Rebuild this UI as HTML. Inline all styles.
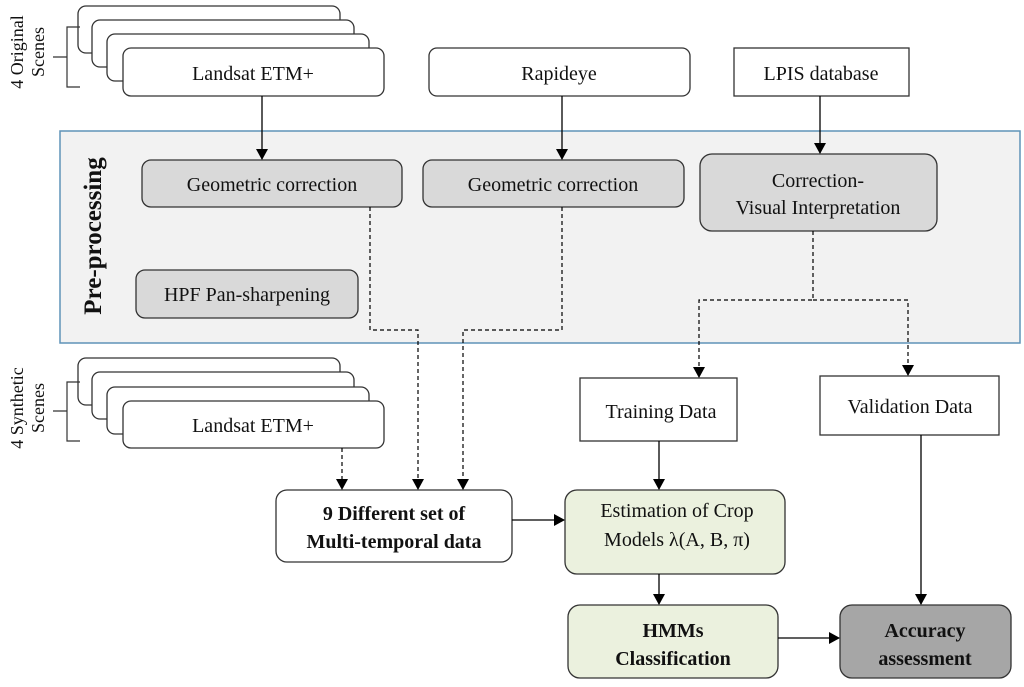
<!DOCTYPE html>
<html><head><meta charset="utf-8"><style>
body{margin:0;background:#fff}
svg text{font-family:"Liberation Serif",serif;fill:#111}
</style></head><body>
<svg width="1024" height="682" viewBox="0 0 1024 682" xmlns="http://www.w3.org/2000/svg">
<defs><marker id="a" markerWidth="12" markerHeight="12" refX="10" refY="6" orient="auto" markerUnits="userSpaceOnUse"><path d="M0,0 L11,6 L0,12 z" fill="#000"/></marker></defs>
<g stroke="#333" stroke-width="1.3" fill="#fff">
<rect x="78" y="6" width="262" height="47" rx="8"/>
<rect x="92" y="20" width="262" height="47" rx="8"/>
<rect x="107" y="34" width="262" height="47" rx="8"/>
<rect x="123" y="48" width="261" height="48" rx="8"/>
<rect x="429" y="48" width="261" height="48" rx="8"/>
<rect x="734" y="48" width="175" height="48" rx="0"/>
<rect x="60" y="131" width="960" height="212" fill="#f2f2f2" stroke="#5f93b8" stroke-width="1.5"/>
<rect x="142" y="160" width="260" height="47" rx="9" fill="#d9d9d9"/>
<rect x="423" y="160" width="261" height="47" rx="9" fill="#d9d9d9"/>
<rect x="700" y="154" width="237" height="77" rx="12" fill="#d9d9d9"/>
<rect x="136" y="270" width="222" height="48" rx="9" fill="#d9d9d9"/>
<rect x="78" y="358" width="262" height="47" rx="8"/>
<rect x="92" y="372" width="262" height="47" rx="8"/>
<rect x="107" y="387" width="262" height="47" rx="8"/>
<rect x="123" y="401" width="261" height="47" rx="8"/>
<rect x="580" y="378" width="157" height="63"/>
<rect x="820" y="376" width="179" height="59"/>
<rect x="276" y="490" width="236" height="72" rx="11"/>
<rect x="565" y="490" width="220" height="84" rx="12" fill="#ebf1de"/>
<rect x="568" y="605" width="210" height="73" rx="12" fill="#ebf1de"/>
<rect x="840" y="605" width="171" height="73" rx="12" fill="#a6a6a6"/>
</g>
<g stroke="#333" stroke-width="1.2" fill="none">
<path d="M53 57H67M80 27H67V87H80"/>
<path d="M53 411H67M80 382H67V441H80"/>
</g>
<g stroke="#000" stroke-width="1.3" fill="none" marker-end="url(#a)">
<line x1="262" y1="96" x2="262" y2="159"/>
<line x1="562" y1="96" x2="562" y2="159"/>
<line x1="820" y1="96" x2="820" y2="153"/>
<line x1="659" y1="441" x2="659" y2="489"/>
<line x1="659" y1="574" x2="659" y2="604"/>
<line x1="512" y1="520" x2="564" y2="520"/>
<line x1="778" y1="638" x2="839" y2="638"/>
<line x1="921" y1="435" x2="921" y2="604"/>
</g>
<g stroke="#000" stroke-width="1.2" fill="none" stroke-dasharray="4,3" marker-end="url(#a)">
<path d="M370 207V330H418V489"/>
<path d="M562 207V330H463V489"/>
<path d="M342 448V489"/>
<path d="M813 231V300H699V377"/>
<path d="M813 300H908V375"/>
</g>
<g font-size="20" text-anchor="middle">
<text x="253" y="80">Landsat ETM+</text>
<text x="559" y="80">Rapideye</text>
<text x="821" y="80">LPIS database</text>
<text x="272" y="191">Geometric correction</text>
<text x="553" y="191">Geometric correction</text>
<text x="818" y="187">Correction-</text>
<text x="818" y="214">Visual Interpretation</text>
<text x="247" y="301">HPF Pan-sharpening</text>
<text x="253" y="432">Landsat ETM+</text>
<text x="661" y="418">Training Data</text>
<text x="910" y="413">Validation Data</text>
<text x="394" y="520" font-weight="bold">9 Different set of</text>
<text x="394" y="548" font-weight="bold">Multi-temporal data</text>
<text x="677" y="517">Estimation of Crop</text>
<text x="677" y="546">Models λ(A, B, π)</text>
<text x="673" y="637" font-weight="bold">HMMs</text>
<text x="673" y="665" font-weight="bold">Classification</text>
<text x="925" y="637" font-weight="bold">Accuracy</text>
<text x="925" y="665" font-weight="bold">assessment</text>
<text transform="translate(101,236) rotate(-90)" font-size="25" font-weight="bold">Pre-processing</text>
<text transform="translate(23,52) rotate(-90)" font-size="18">4 Original</text>
<text transform="translate(44,52) rotate(-90)" font-size="18">Scenes</text>
<text transform="translate(23,408) rotate(-90)" font-size="18">4 Synthetic</text>
<text transform="translate(44,408) rotate(-90)" font-size="18">Scenes</text>
</g>
</svg>
</body></html>
